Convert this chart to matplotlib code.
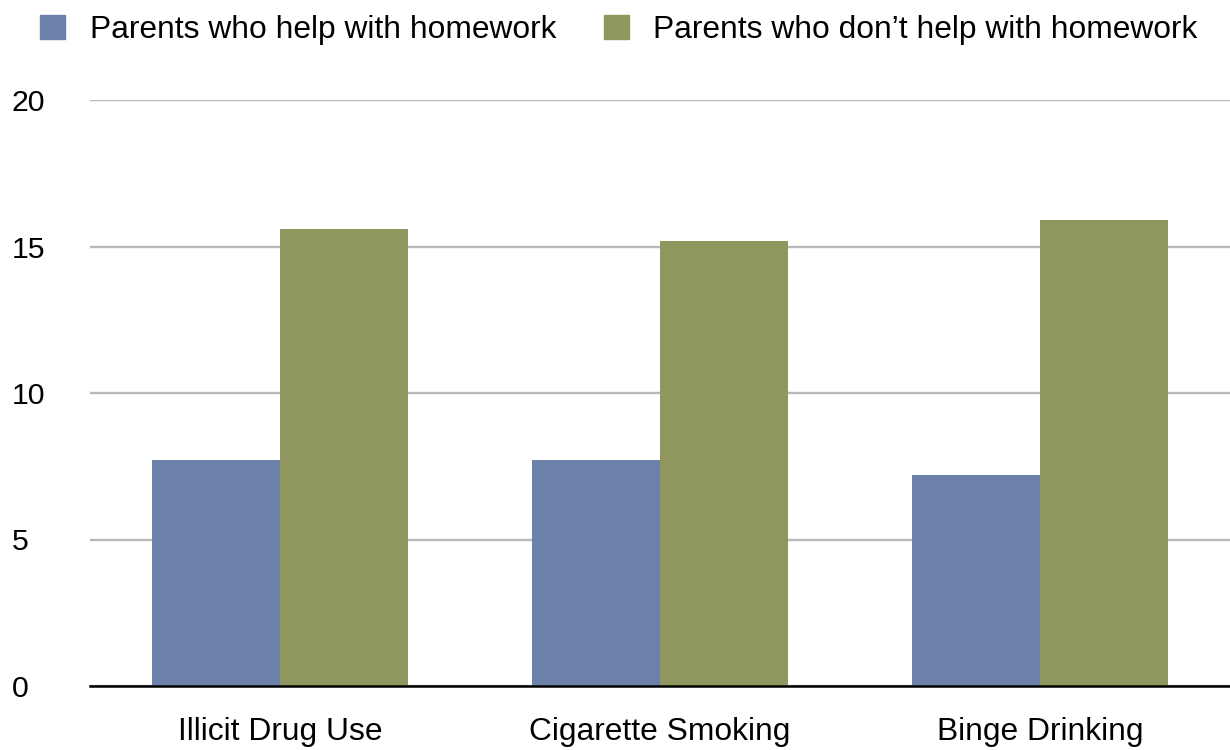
import matplotlib
matplotlib.use("Agg")
import matplotlib.pyplot as plt
import numpy as np
from matplotlib.patches import Patch

plt.rcParams['font.family'] = ['Liberation Sans', 'DejaVu Sans']

categories = ['Illicit Drug Use', 'Cigarette Smoking', 'Binge Drinking']
helps = [7.7, 7.7, 7.2]
no_help = [15.6, 15.2, 15.9]
series_names = ['Parents who help with homework', 'Parents who don\u2019t help with homework']
colors = ['#6b81aa', '#8f965e']
y_ticks = [0, 5, 10, 15, 20]

fig = plt.figure(figsize=(12.3, 7.5), dpi=100)
ax = fig.add_axes([90 / 1230, 64 / 750, 1140 / 1230, 586 / 750])

x = np.arange(len(categories))
w = 0.338
ax.bar(x - w / 2, helps, w, color=colors[0], zorder=3)
ax.bar(x + w / 2, no_help, w, color=colors[1], zorder=3)

ax.set_xlim(-0.5, 2.5)
ax.set_ylim(0, 20)
ax.set_yticks(y_ticks)
ax.set_yticklabels([str(t) for t in y_ticks], fontsize=21.8)
for lbl in ax.get_yticklabels():
    lbl.set_horizontalalignment('left')
ax.tick_params(axis='y', length=0, pad=56.2)
ax.set_xticks(x)
ax.set_xticklabels(categories, fontsize=22.9)
ax.tick_params(axis='x', length=0, pad=22)

ax.grid(axis='y', color='#b8b8b8', linewidth=1.7, zorder=0)
for s in ['top', 'right', 'left']:
    ax.spines[s].set_visible(False)
ax.spines['bottom'].set_linewidth(1.8)
ax.spines['bottom'].set_zorder(4)

handles = [Patch(color=c) for c in colors]
fig.legend(handles, series_names, loc='center left', bbox_to_anchor=(40 / 1230, 1 - 30 / 750),
           ncol=2, frameon=False, fontsize=22.9, handlelength=0.78, handleheight=0.78,
           handletextpad=0.78, columnspacing=1.5, borderpad=0, borderaxespad=0)

fig.savefig('out.png', dpi=100)
